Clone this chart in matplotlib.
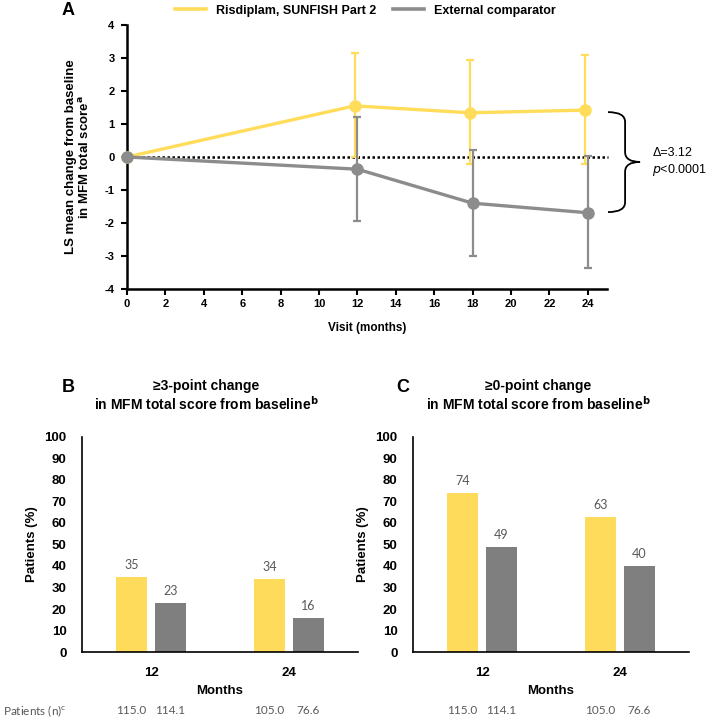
import matplotlib
matplotlib.use("Agg")
import matplotlib.pyplot as plt
from matplotlib.path import Path
import matplotlib.patches as patches
import numpy as np

plt.rcParams['font.family'] = ['Liberation Sans', 'DejaVu Sans']
plt.rcParams['axes.unicode_minus'] = False

# panel A data
visits = [0, 12, 18, 24]
risdi_mean = [0, 1.55, 1.34, 1.42]
risdi_upper = [0, 3.15, 2.93, 3.10]
risdi_lower = [0, 0.0, -0.22, -0.20]
ext_mean = [0, -0.37, -1.40, -1.69]
ext_upper = [0, 1.22, 0.21, 0.03]
ext_lower = [0, -1.95, -3.0, -3.37]

# panels B and C data
months = ['12', '24']
b_risdi = [35, 34]
b_ext = [23, 16]
c_risdi = [74, 63]
c_ext = [49, 40]
n_risdi = ['115.0', '105.0']
n_ext = ['114.1', '76.6']

YELLOW = '#FFDD5A'
YELLOW_BAR = '#FFDB5C'
GREY = '#8C8C8C'
GREY_BAR = '#7F7F7F'
LABEL_GREY = '#595959'

fig = plt.figure(figsize=(7.08, 7.18), dpi=100)

# ---------- panel A ----------
ax = fig.add_axes([0.1794, 0.5975, 0.678, 0.3677])

def draw_series(xs, mean, up, lo, colour, shift, z):
    xs = np.array(xs, dtype=float)
    xs[1:] = xs[1:] + shift
    mean = np.array(mean)
    yerr = np.array([mean - np.array(lo), np.array(up) - mean])
    ax.errorbar(xs[1:], mean[1:], yerr=yerr[:, 1:], fmt='none', ecolor=colour,
                elinewidth=1.6, capsize=3, capthick=1.6, zorder=z, clip_on=False)
    ax.plot(xs, mean, '-o', color=colour, lw=2.4, ms=8, zorder=z + 1, clip_on=False)

ax.plot([0, 25.05], [0, 0], color='black', lw=1.8, linestyle=(0, (1, 1)), zorder=1, clip_on=False)
draw_series(visits, risdi_mean, risdi_upper, risdi_lower, YELLOW, -0.15, 3)
draw_series(visits, ext_mean, ext_upper, ext_lower, GREY, 0.0, 5)

ax.set_xlim(0, 25)
ax.set_ylim(-4, 4)
ax.set_xticks(range(0, 25, 2))
ax.set_yticks(range(-4, 5))
for s in ['top', 'right']:
    ax.spines[s].set_visible(False)
for s in ['left', 'bottom']:
    ax.spines[s].set_linewidth(1.8)
ax.tick_params(axis='both', width=1.5, length=4, labelsize=8)
ax.tick_params(axis='y', pad=5)
for lab in ax.get_xticklabels() + ax.get_yticklabels():
    lab.set_fontweight('bold')
ax.set_xlabel('Visit (months)', fontsize=8.5, fontweight='bold', labelpad=9)
ax.set_ylabel('LS mean change from baseline\nin MFM total score$^{\\mathbf{a}}$', fontsize=9.5,
              fontweight='bold', labelpad=9, linespacing=1.1)

# brace between the two curves
x0, x1, x2 = 25.05, 25.94, 26.72
yt, yb, ym, r = 1.36, -1.67, -0.15, 0.3
verts = [(x0, yt), (x1, yt), (x1, yt - r), (x1, ym + r), (x1, ym), (x2, ym),
         (x1, ym), (x1, ym - r), (x1, yb + r), (x1, yb), (x0, yb)]
codes = [Path.MOVETO, Path.CURVE3, Path.CURVE3, Path.LINETO, Path.CURVE3, Path.CURVE3,
         Path.CURVE3, Path.CURVE3, Path.LINETO, Path.CURVE3, Path.CURVE3]
ax.add_patch(patches.PathPatch(Path(verts, codes), fill=False, lw=1.3, color='black', clip_on=False))
ax.text(27.35, 0.12, '\u0394=3.12', fontsize=9, va='center', ha='left')
ax.text(27.35, -0.4, '$p$<0.0001', fontsize=9, va='center', ha='left')

handles = [plt.Line2D([], [], color=YELLOW, lw=2.6), plt.Line2D([], [], color=GREY, lw=2.6)]
fig.legend(handles, ['Risdiplam, SUNFISH Part 2', 'External comparator'], loc='center',
           bbox_to_anchor=(0.516, 0.985), ncol=2, frameon=False, handlelength=2.5,
           handletextpad=0.8, columnspacing=1.3, borderpad=0,
           prop={'weight': 'bold', 'size': 9})
fig.text(0.096, 0.986, 'A', fontsize=13, fontweight='bold', ha='center', va='center')

# ---------- panels B and C ----------
def bar_panel(left, risdi, ext, title_x, letter_x, letter, title, show_n_label):
    bx = fig.add_axes([left, 0.0919, 0.39, 0.2995])
    pos = np.arange(len(months))
    w = 0.225
    rb = bx.bar(pos - 0.141, risdi, w, color=YELLOW_BAR)
    eb = bx.bar(pos + 0.141, ext, w, color=GREY_BAR)
    for bars in (rb, eb):
        for b in bars:
            bx.annotate(f'{b.get_height():.0f}', (b.get_x() + b.get_width() / 2, b.get_height()),
                        xytext=(0, 4), textcoords='offset points', ha='center', va='bottom',
                        fontsize=9, color=LABEL_GREY, family=['Lato', 'DejaVu Sans'])
    bx.set_xlim(-0.5, 1.5)
    bx.set_ylim(0, 100)
    bx.set_yticks(range(0, 101, 10))
    bx.set_xticks(pos)
    bx.set_xticklabels(months)
    bx.tick_params(length=0, labelsize=9.5)
    bx.tick_params(axis='y', pad=11)
    bx.tick_params(axis='x', pad=11)
    for lab in bx.get_xticklabels() + bx.get_yticklabels():
        lab.set_fontweight('bold')
    for s in ['top', 'right']:
        bx.spines[s].set_visible(False)
    for s in ['left', 'bottom']:
        bx.spines[s].set_linewidth(1.2)
    bx.set_xlabel('Months', fontsize=9.5, fontweight='bold', labelpad=4)
    bx.set_ylabel('Patients (%)', fontsize=9.5, fontweight='bold', labelpad=5)
    # patient numbers under the axis
    for i in pos:
        bx.text(i - 0.141, -0.274, n_risdi[i], transform=bx.get_xaxis_transform(), ha='center',
                va='center', fontsize=8.5, color=LABEL_GREY, family=['Lato', 'DejaVu Sans'])
        bx.text(i + 0.141, -0.274, n_ext[i], transform=bx.get_xaxis_transform(), ha='center',
                va='center', fontsize=8.5, color=LABEL_GREY, family=['Lato', 'DejaVu Sans'])
    if show_n_label:
        fig.text(0.004, 1 - 711 / 718, 'Patients (n)$^{\\mathregular{c}}$', fontsize=8.5,
                 color=LABEL_GREY, va='center', ha='left', family=['Lato', 'DejaVu Sans'])
    fig.text(title_x, 1 - 386 / 718, title[0], fontsize=10, fontweight='bold', ha='center', va='center')
    fig.text(title_x, 1 - 404 / 718, title[1], fontsize=10, fontweight='bold', ha='center', va='center')
    fig.text(letter_x, 1 - 388 / 718, letter, fontsize=13, fontweight='bold', ha='center', va='center')

bar_panel(0.1158, b_risdi, b_ext, 206 / 708, 68 / 708, 'B',
          ['\u22653-point change', 'in MFM total score from baseline$^{\\mathbf{b}}$'], True)
bar_panel(0.5833, c_risdi, c_ext, 538 / 708, 403 / 708, 'C',
          ['\u22650-point change', 'in MFM total score from baseline$^{\\mathbf{b}}$'], False)

fig.savefig('out.png', dpi=100)
